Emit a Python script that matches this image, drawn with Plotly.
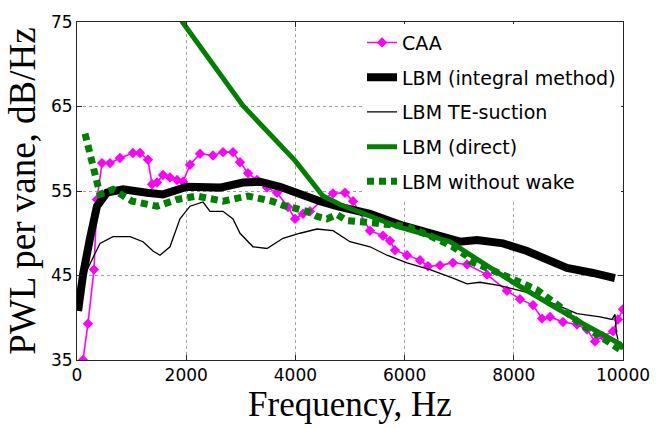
import plotly.graph_objects as go

# ---- measured spectra (frequency in Hz, PWL in dB/Hz) ----
caa_f = [110, 201, 311, 366, 458, 604, 787, 1026, 1154, 1300, 1374, 1465, 1575, 1703,
         1832, 1941, 2070, 2253, 2491, 2674, 2857, 2985, 3132, 3297, 3480, 3663, 3864,
         3993, 4139, 4267, 4505, 4689, 4908, 5055, 5366, 5604, 5733, 5824, 6044, 6282,
         6429, 6648, 6886, 7143, 7509, 7875, 8114, 8352, 8517, 8663, 8901, 9158, 9341,
         9487, 9634, 9817, 9908, 10000]
caa_db = [35.0, 39.3, 45.7, 54.0, 58.3, 58.3, 58.9, 59.5, 59.5, 58.7, 55.8, 56.0, 56.9, 56.6,
          56.3, 56.1, 58.1, 59.4, 59.2, 59.6, 59.6, 58.4, 57.1, 56.3, 55.4, 54.8, 53.1,
          51.7, 52.3, 52.6, 54.0, 54.7, 54.8, 53.8, 50.3, 49.7, 49.1, 48.0, 47.4, 46.8,
          46.1, 46.2, 46.5, 46.3, 45.1, 43.2, 42.2, 41.5, 39.9, 40.1, 39.5, 39.2, 38.6,
          37.2, 37.8, 38.4, 39.8, 41.0]

integral_f = [20, 110, 238, 366, 549, 842, 1282, 1575, 2015, 2308, 2619, 3040, 3352, 3718,
              4084, 4450, 4762, 4945, 5366, 5971, 6593, 7015, 7326, 7802, 8242, 8608, 8974,
              9450, 9853]
integral_db = [40.8, 45.1, 49.4, 53.2, 54.8, 55.2, 54.8, 54.6, 55.5, 55.4, 55.4, 56.0, 56.1,
               55.5, 54.6, 53.8, 53.2, 52.9, 52.3, 50.9, 49.7, 49.0, 49.2, 48.8, 47.9, 46.8,
               45.9, 45.3, 44.7]

te_f = [20, 110, 201, 421, 659, 971, 1209, 1392, 1520, 1703, 1886, 2070, 2308, 2436, 2674,
        2857, 2985, 3223, 3480, 3773, 4084, 4396, 4689, 5000, 5366, 5678, 6044, 6465, 6886,
        7143, 7381, 7747, 8242, 8791, 9158, 9579, 9799, 9853, 9880, 9908]
te_db = [41.5, 44.5, 45.9, 48.8, 49.6, 49.6, 49.0, 47.9, 47.4, 48.4, 51.7, 53.2, 53.7, 52.6,
         52.6, 51.7, 50.0, 48.4, 48.2, 49.4, 50.0, 50.5, 50.3, 49.0, 48.4, 47.4, 46.5, 45.7,
         44.7, 44.0, 44.2, 43.8, 43.0, 41.5, 40.5, 40.1, 39.8, 40.4, 38.2, 37.4]

direct_f = [1800, 1941, 3040, 3993, 4505, 4817, 5861, 6831, 7381, 7985, 8663, 9267, 9945, 10000]
direct_db = [76.5, 74.9, 65.1, 58.6, 54.4, 53.4, 50.8, 49.0, 46.7, 44.2, 41.6, 39.3, 36.9, 36.3]

nowake_f = [147, 421, 659, 1007, 1465, 1832, 2198, 2381, 2674, 3132, 3352, 3571, 3773, 4029,
            4212, 4396, 4579, 4762, 4945, 5311, 5678, 6044, 6465, 6886, 7143, 7198, 7619,
            7985, 8425, 8846, 9212, 9579, 9945, 10000]
nowake_db = [61.8, 54.6, 55.2, 53.8, 53.2, 54.0, 54.4, 54.2, 53.8, 54.4, 54.2, 53.8, 53.3,
             53.0, 52.6, 52.0, 51.7, 52.2, 51.5, 51.3, 51.1, 50.8, 49.7, 48.4, 47.3, 46.7,
             45.6, 44.5, 43.3, 41.3, 39.3, 37.8, 36.3, 36.0]

x_ticks = [0, 2000, 4000, 6000, 8000, 10000]
y_ticks = [35, 45, 55, 65, 75]

GREEN = "#008000"

fig = go.Figure()
fig.add_trace(go.Scatter(
    x=caa_f, y=caa_db, name="CAA", mode="lines+markers", legendgroup="a",
    line=dict(color="#ff00ff", width=1.6),
    marker=dict(symbol="diamond", size=8, color="#ff00ff")))
fig.add_trace(go.Scatter(
    x=integral_f, y=integral_db, name="LBM (integral method)", mode="lines", legendgroup="b",
    line=dict(color="black", width=8)))
fig.add_trace(go.Scatter(
    x=te_f, y=te_db, name="LBM TE-suction", mode="lines", legendgroup="c",
    line=dict(color="black", width=1.3)))
fig.add_trace(go.Scatter(
    x=direct_f, y=direct_db, name="LBM (direct)", mode="lines", legendgroup="d",
    line=dict(color=GREEN, width=5)))
fig.add_trace(go.Scatter(
    x=nowake_f, y=nowake_db, name="LBM without wake", mode="lines", legendgroup="e",
    line=dict(color=GREEN, width=7, dash="7px,5px")))

axis_common = dict(
    showline=True, linecolor="#262626", linewidth=1, mirror="ticks",
    ticks="inside", ticklen=5, tickcolor="#262626",
    showgrid=True, gridcolor="#a0a0a0", gridwidth=1, griddash="dot",
    zeroline=False,
    tickfont=dict(family="DejaVu Sans", size=17, color="black"),
)

fig.update_xaxes(range=[0, 10000], tickvals=x_ticks, ticktext=[str(v) for v in x_ticks],
                 title=dict(text="Frequency, Hz", standoff=6,
                            font=dict(family="Liberation Serif", size=35, color="black")),
                 **axis_common)
fig.update_yaxes(range=[35, 75], tickvals=y_ticks, ticktext=[str(v) for v in y_ticks],
                 title=dict(text="PWL per vane, dB/Hz", standoff=4,
                            font=dict(family="Liberation Serif", size=37, color="black")),
                 **axis_common)

fig.update_layout(
    width=662, height=428,
    margin=dict(l=77, r=39, t=19, b=64),
    paper_bgcolor="white", plot_bgcolor="white",
    legend=dict(x=0.522, y=0.995, xanchor="left", yanchor="top",
                bgcolor="white", borderwidth=0, tracegroupgap=7,
                font=dict(family="DejaVu Sans", size=19, color="black")),
)

fig.write_html("out.html")
